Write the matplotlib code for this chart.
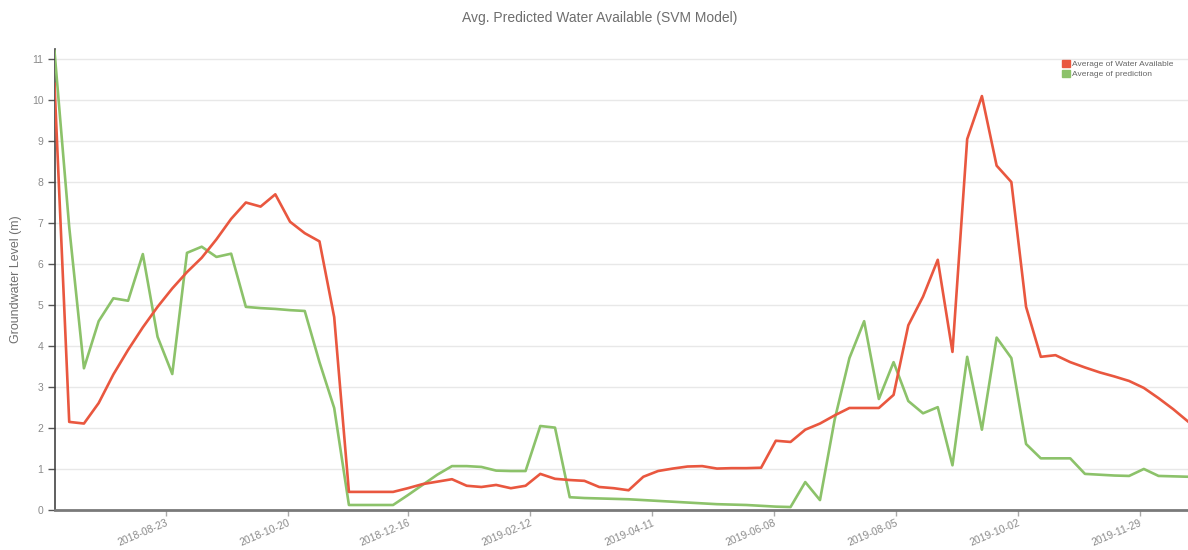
import matplotlib
matplotlib.use("Agg")
import matplotlib.pyplot as plt
from matplotlib.patches import Patch
import pandas as pd

plt.rcParams["font.family"] = ["Liberation Sans", "DejaVu Sans"]

# weekly observation dates
start_date = "2018-07-01"
n_weeks = 78
dates = pd.date_range(start_date, periods=n_weeks, freq="7D")

water_available = [
    10.4, 2.14, 2.1, 2.6, 3.3, 3.9, 4.45, 4.95, 5.4, 5.8,
    6.15, 6.6, 7.1, 7.5, 7.4, 7.7, 7.03, 6.75, 6.55, 4.7,
    0.43, 0.43, 0.43, 0.43, 0.52, 0.62, 0.68, 0.74, 0.58, 0.55,
    0.6, 0.52, 0.58, 0.87, 0.75, 0.72, 0.7, 0.55, 0.52, 0.47,
    0.8, 0.94, 1.0, 1.05, 1.06, 1.0, 1.01, 1.01, 1.02, 1.68,
    1.65, 1.95, 2.1, 2.3, 2.48, 2.48, 2.48, 2.8, 4.5, 5.2,
    6.1, 3.85, 9.05, 10.1, 8.4, 8.0, 4.95, 3.73, 3.77, 3.6,
    3.47, 3.35, 3.25, 3.14, 2.97, 2.72, 2.45, 2.15,
]

prediction = [
    11.2, 6.9, 3.45, 4.6, 5.16, 5.1, 6.24, 4.22, 3.31, 6.27,
    6.42, 6.17, 6.25, 4.95, 4.92, 4.9, 4.87, 4.85, 3.6, 2.48,
    0.11, 0.11, 0.11, 0.11, 0.35, 0.6, 0.85, 1.06, 1.06, 1.04,
    0.95, 0.94, 0.94, 2.04, 2.0, 0.3, 0.28, 0.27, 0.26, 0.25,
    0.23, 0.21, 0.19, 0.17, 0.15, 0.13, 0.12, 0.11, 0.09, 0.07,
    0.06, 0.67, 0.23, 2.2, 3.7, 4.6, 2.7, 3.6, 2.65, 2.35,
    2.5, 1.08, 3.73, 1.95, 4.2, 3.7, 1.6, 1.25, 1.25, 1.25,
    0.87, 0.85, 0.83, 0.82, 0.99, 0.82, 0.81, 0.8,
]

tick_dates = ["2018-08-23", "2018-10-20", "2018-12-16", "2019-02-12",
              "2019-04-11", "2019-06-08", "2019-08-05", "2019-10-02", "2019-11-29"]
y_ticks = list(range(0, 12))

title = "Avg. Predicted Water Available (SVM Model)"
y_label = "Groundwater Level (m)"
series_names = ["Average of Water Available", "Average of prediction"]

RED = "#e9573f"
GREEN = "#8cc26a"
TEXT = "#8a8a8a"

fig = plt.figure(figsize=(11.88, 5.5), dpi=100)
ax = fig.add_axes([54.5 / 1188, 1 - 509.5 / 550, 1 - 54.5 / 1188, (509.5 - 49) / 550])

ax.plot(dates, prediction, color=GREEN, lw=1.9, solid_joinstyle="round", zorder=3)
ax.plot(dates, water_available, color=RED, lw=1.9, solid_joinstyle="round", zorder=4)

ax.set_xlim(dates[0], dates[-1])
ax.set_ylim(0, 11.25)

ax.set_yticks(y_ticks)
ax.set_yticklabels([str(v) for v in y_ticks])
ax.yaxis.grid(True, color="#e8e8e8", lw=1)
ax.set_axisbelow(True)

ticks = pd.to_datetime(tick_dates)
ax.set_xticks(ticks)
ax.set_xticklabels(tick_dates, rotation=23, ha="right", rotation_mode="anchor")

ax.tick_params(axis="y", colors="#555555", labelcolor=TEXT, labelsize=7.5, length=5, width=1, pad=3)
ax.tick_params(axis="x", colors="#aaaaaa", labelcolor=TEXT, labelsize=7.5, length=4, width=1, pad=2)

for s in ["top", "right"]:
    ax.spines[s].set_visible(False)
ax.spines["left"].set_color("#444444")
ax.spines["left"].set_linewidth(1.2)
ax.spines["bottom"].set_color("#7a7a7a")
ax.spines["bottom"].set_linewidth(2)

ax.set_ylabel(y_label, color="#707070", fontsize=9, labelpad=7)
fig.text(0.505, 1 - 18 / 550, title, ha="center", va="center", color="#6e6e6e", fontsize=10)

handles = [Patch(facecolor=RED, edgecolor=RED), Patch(facecolor=GREEN, edgecolor=GREEN)]
leg = ax.legend(handles, series_names, loc="upper left", bbox_to_anchor=(0.8855, 0.985),
                frameon=False, fontsize=6, handlelength=0.9, handleheight=0.9,
                handletextpad=0.3, labelspacing=0.15, borderpad=0)
for t in leg.get_texts():
    t.set_color("#666666")

fig.savefig("out.png", dpi=100)
